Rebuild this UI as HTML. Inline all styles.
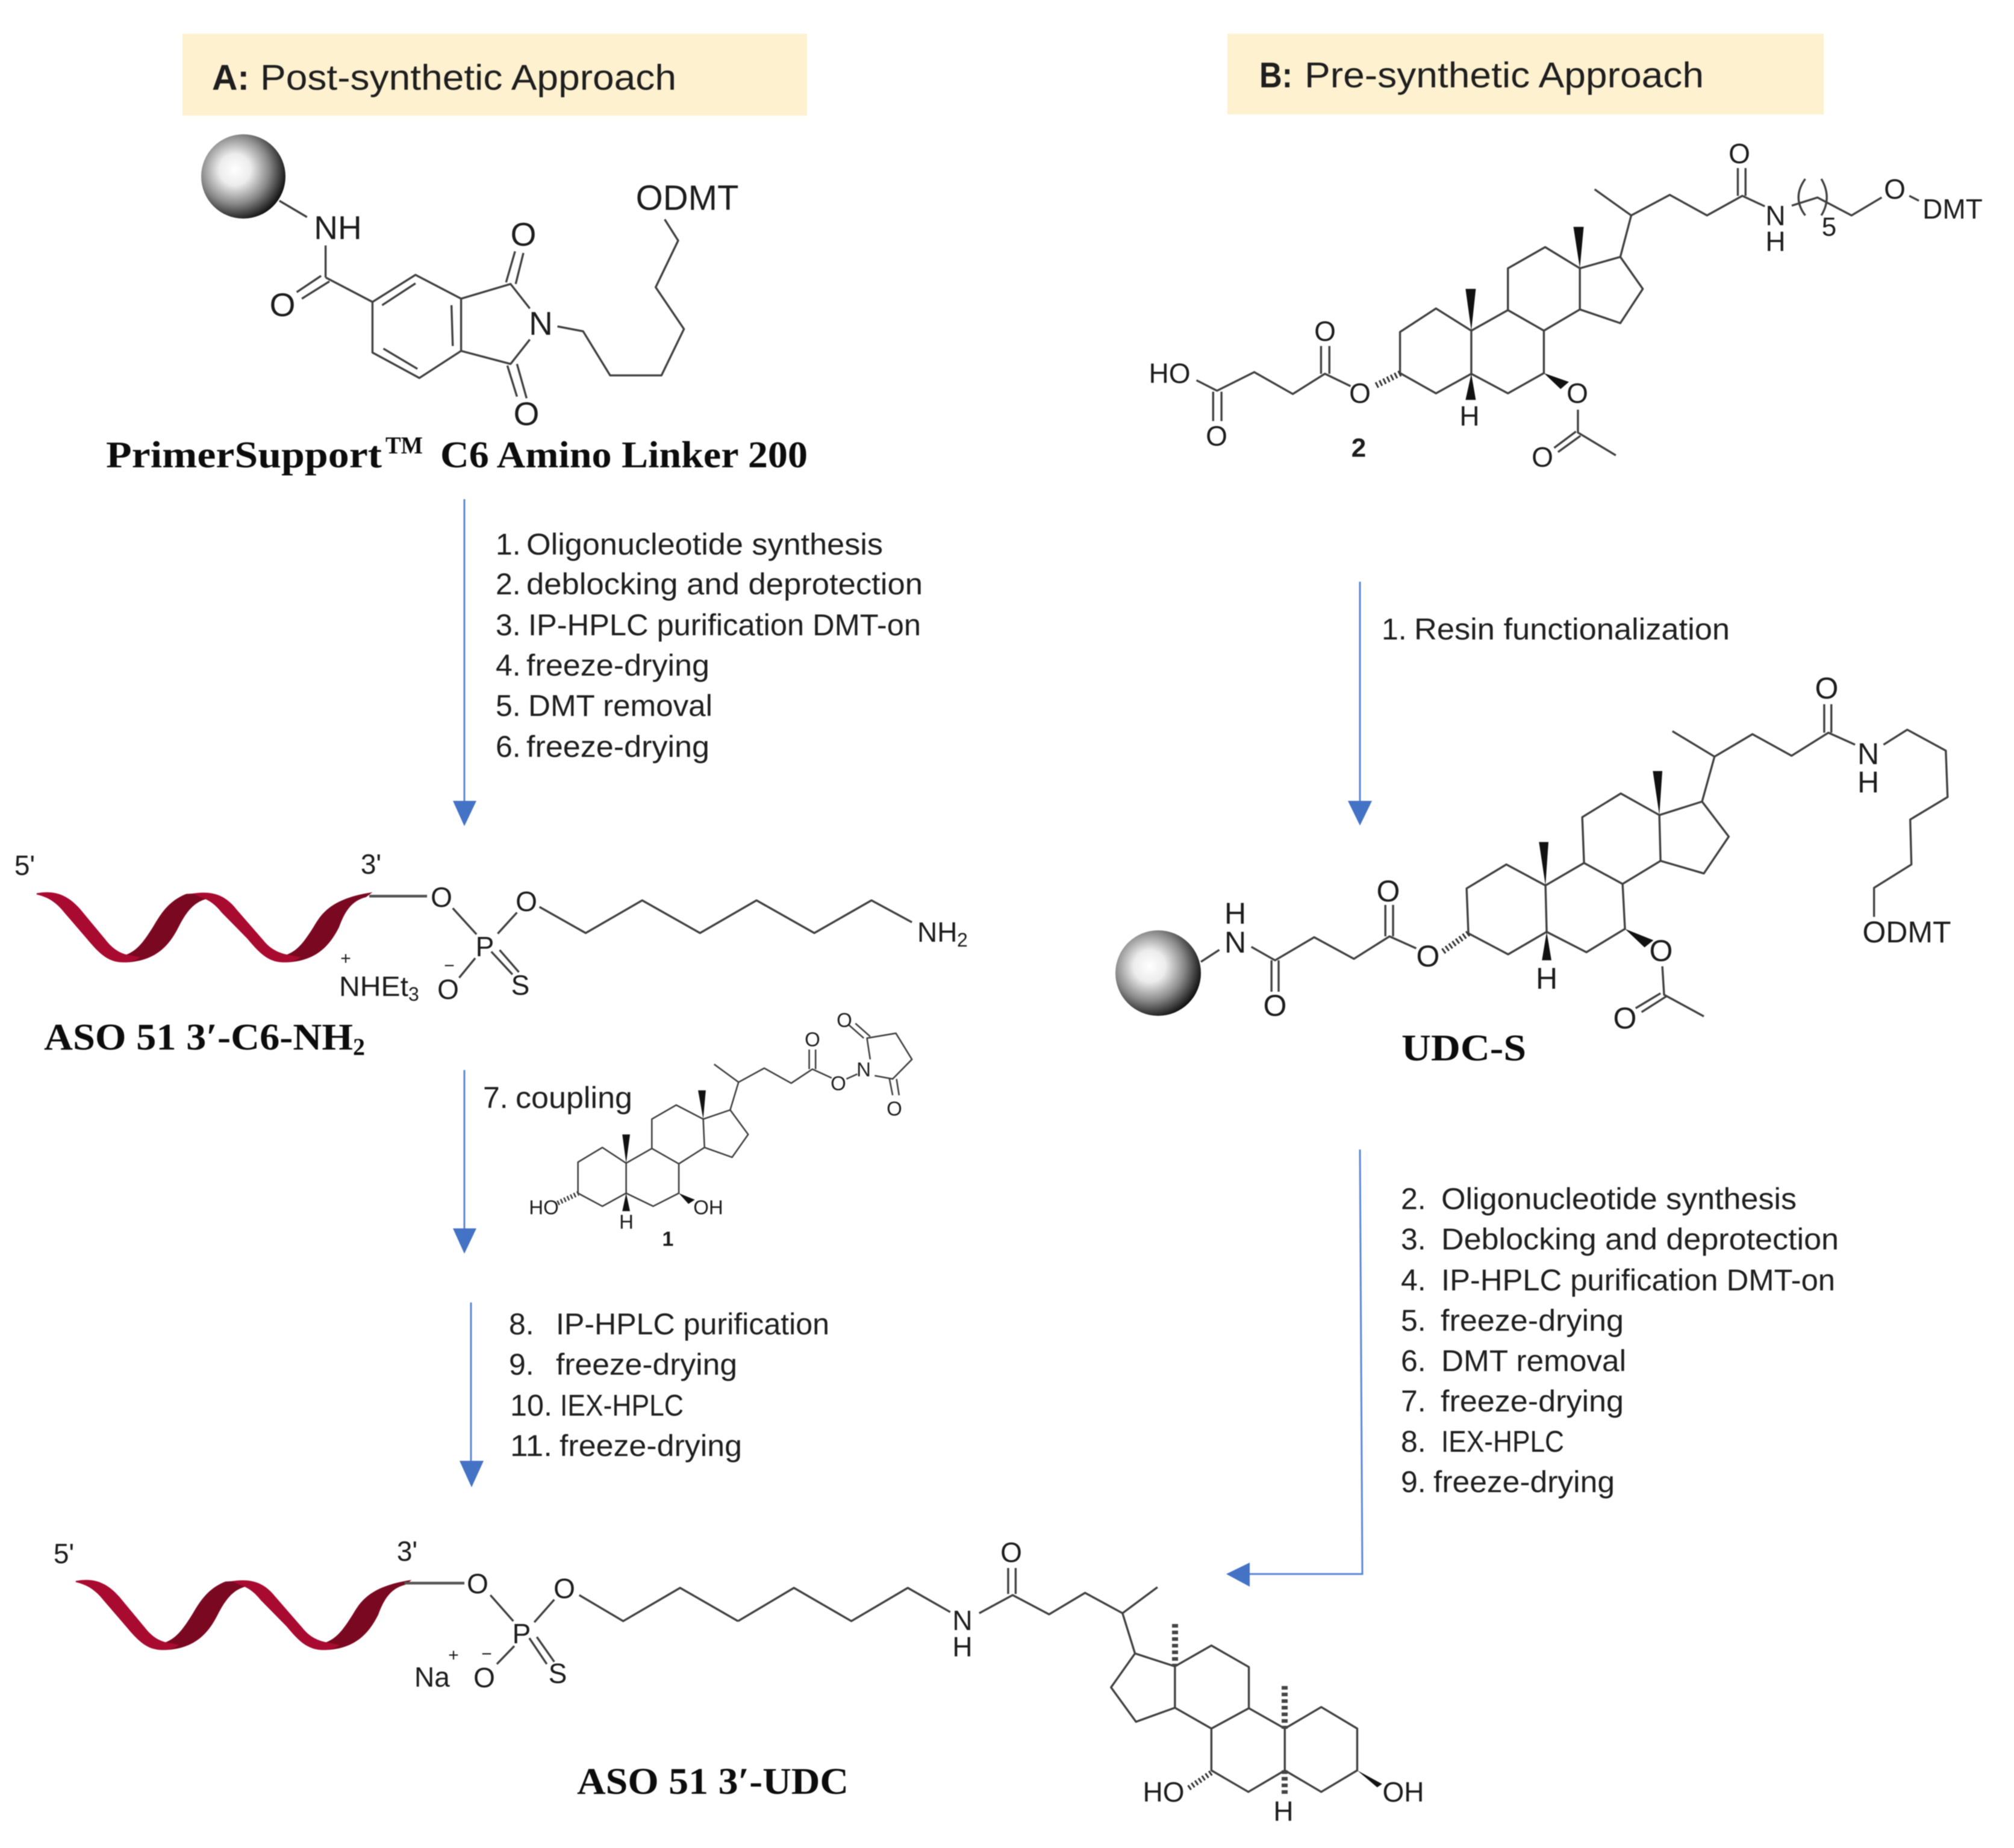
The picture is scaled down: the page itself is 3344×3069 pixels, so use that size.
<!DOCTYPE html>
<html><head><meta charset="utf-8"><style>
html,body{margin:0;padding:0;background:#fff}
svg{display:block;filter:blur(.7px)}
.m{fill:none;stroke:#404040;stroke-width:3.4;stroke-linejoin:round;vector-effect:non-scaling-stroke}
.s{fill:none;stroke:#404040;stroke-width:2.6;stroke-linejoin:round;vector-effect:non-scaling-stroke}
.f{fill:#111;stroke:none}
.a{fill:none;stroke:#5a86d2;stroke-width:3}
.h{fill:#4472c4;stroke:none}
text{font-family:"Liberation Sans",sans-serif;fill:#1c1c1c}
.c{text-anchor:middle;dominant-baseline:central}
.l58{font-size:58px}.l55{font-size:55px}.l50{font-size:50px}.l46{font-size:46px}.l33{font-size:33px}
.t{font-size:50px;fill:#1e1e1e}
.hd{font-size:59px;fill:#1e1e1e}
.se{font-family:"Liberation Serif",serif;font-weight:bold;font-size:62px;fill:#0c0c0c}
</style></head><body>
<svg xmlns="http://www.w3.org/2000/svg" width="3344" height="3069" viewBox="0 0 3344 3069">
<defs><radialGradient id="sp" cx=".4" cy=".42" r=".62"><stop offset="0" stop-color="#fff"/><stop offset=".3" stop-color="#ececec"/><stop offset=".65" stop-color="#8a8a8a"/><stop offset="1" stop-color="#111"/></radialGradient></defs>
<rect width="3344" height="3069" fill="#fff"/>

<!-- headers -->
<rect x="303" y="56" width="1037" height="136" fill="#fdf1cf"/>
<rect x="2038" y="56" width="990" height="134" fill="#fdf1cf"/>
<text class="hd" x="352" y="149" font-weight="bold" textLength="62" lengthAdjust="spacingAndGlyphs">A:</text>
<text class="hd" x="432" y="149" textLength="691" lengthAdjust="spacingAndGlyphs">Post-synthetic Approach</text>
<text class="hd" x="2091" y="145" font-weight="bold" textLength="55" lengthAdjust="spacingAndGlyphs">B:</text>
<text class="hd" x="2166" y="145" textLength="663" lengthAdjust="spacingAndGlyphs">Pre-synthetic Approach</text>

<!-- Structure: primer support -->
<circle cx="404" cy="293" r="70" fill="url(#sp)"/>
<g transform="scale(1.0663,.5421)">
<path class="m" d="M435,615L478,665M507,752V850M500,845L462,895M513,862L470,915M507,850L580,925M580,925L647,842L718,915V1075L653,1158L580,1080ZM595,935L647,868M703,935L705,1060M597,1068L650,1130M718,915L795,870L825,945M825,1040L795,1115L718,1075M788,865L802,770M803,870L815,775M790,1120L805,1215M805,1115L820,1220M868,1000L908,1015L950,1150L1030,1150L1065,1008L1021,880L1056,737L1035,672"/>
</g>
<text class="c l55" x="561" y="378">NH</text>
<text class="c l55" x="869" y="389">O</text>
<text class="c l55" x="469" y="506">O</text>
<text class="c l55" x="898" y="537">N</text>
<text class="c l55" x="874" y="687">O</text>
<text class="c l58" x="1141" y="329">ODMT</text>
<text class="se" x="176" y="776" textLength="458" lengthAdjust="spacingAndGlyphs">PrimerSupport</text>
<text class="se" x="640" y="753" style="font-size:40px" textLength="62" lengthAdjust="spacingAndGlyphs">TM</text>
<text class="se" x="731" y="776" textLength="610" lengthAdjust="spacingAndGlyphs">C6 Amino Linker 200</text>

<!-- Structure 2 -->
<g transform="translate(1672,0) scale(1.0663,.5421)">
<path class="m" d="M295,1165L327,1197L385,1140L445,1207L495,1145L535,1183M321,1200V1290M334,1200V1290M489,1145V1060M502,1145V1060M612,1143V1017L668,945L723,1013V1145L668,1205ZM723,1013L780,950L836,1013V1143L780,1205L723,1145M780,950V822L838,757L892,822V948L836,1013M892,822L955,787L990,885L955,990L892,948M955,787L972,660L915,580M972,660L1032,597L1090,660L1145,600L1180,632M1138,600V515M1150,600V515M1222,630L1262,605L1315,660L1362,605M1405,600L1420,615M889,1255V1325L948,1395M886,1322L852,1372M893,1335L858,1385M1243,548Q1222,605 1243,660M1268,548Q1285,605 1268,660"/>
<polygon class="f" points="723,1013 714,885 730,885"/>
<polygon class="f" points="892,822 882,695 898,695"/>
<polygon class="f" points="723,1145 714,1225 730,1225"/>
<polygon class="f" points="836,1143 862,1192 875,1170"/>
</g>
<line x1="2285" y1="640" x2="2325" y2="620" stroke="#333" stroke-width="10" stroke-dasharray="3 4"/>
<text class="c l46" x="1942" y="620">HO</text>
<text class="c l46" x="2020" y="724">O</text>
<text class="c l46" x="2200" y="550">O</text>
<text class="c l46" x="2258" y="653">O</text>
<text class="c l46" x="2440" y="691">H</text>
<text class="c l46" x="2619" y="653">O</text>
<text class="c l46" x="2561" y="759">O</text>
<text class="c l46" x="2888" y="255">O</text>
<text class="c l46" x="2948" y="358">N</text>
<text class="c l46" x="2948" y="401">H</text>
<text class="c" x="3037" y="377" style="font-size:44px">5</text>
<text class="c l46" x="3146" y="314">O</text>
<text class="c l46" x="3242" y="347">DMT</text>
<text class="c" x="2256" y="744" font-weight="bold" style="font-size:44px">2</text>

<!-- Ribbon 1 -->
<g transform="translate(0,1350) scale(1.0663,.5421)">
<path fill="#7a0820" d="M197,434C215,420 225,390 238,350C250,310 262,270 290,248L318,245L325,262C305,270 292,295 278,350C265,400 245,455 195,458Z"/>
<path fill="#7a0820" d="M447,434C465,420 475,390 488,350C500,310 515,262 580,243L570,258C550,268 538,295 528,350C515,400 495,455 445,458Z"/>
<path fill="#a80a30" d="M57,246C85,236 105,250 125,295L165,390C175,415 185,428 197,434L218,442C210,455 198,460 185,457C165,452 152,425 135,385L100,305C88,275 75,258 57,250Z"/>
<path fill="#a80a30" d="M300,247C330,238 350,250 368,295L410,390C420,415 432,428 447,434L468,442C460,455 448,460 435,457C415,452 402,425 385,385L345,305C335,280 325,266 312,258Z"/>
<path class="m" style="stroke-width:4.5;stroke:#555" d="M575,255H665"/>
<path class="m" d="M705,292L742,372M775,370L805,305M840,288L912,368L1000,268L1090,368L1178,268L1268,368L1357,268L1420,335M765,425L798,495M778,420L808,488M740,445L715,505"/>
</g>
<text class="c l46" x="41" y="1437">5'</text>
<text class="c l46" x="616" y="1435">3'</text>
<text class="c l46" x="733" y="1490">O</text>
<text class="c l46" x="874" y="1497">O</text>
<text class="c l46" x="805" y="1572">P</text>
<text class="c l46" x="744" y="1643">O</text>
<text class="c l46" x="864" y="1636">S</text>
<text class="c" x="746" y="1604" style="font-size:30px">−</text>
<text class="c" x="574" y="1592" style="font-size:30px">+</text>
<text class="l46" x="563" y="1654" textLength="115" lengthAdjust="spacingAndGlyphs">NHEt</text>
<text x="678" y="1662" style="font-size:32px">3</text>
<text class="l46" x="1523" y="1564">NH</text>
<text x="1589" y="1572" style="font-size:32px">2</text>
<text class="se" x="73" y="1743" textLength="513" lengthAdjust="spacingAndGlyphs">ASO 51 3′-C6-NH</text>
<text class="se" x="586" y="1752" style="font-size:40px">2</text>

<!-- Compound 1 -->
<g transform="translate(0,1350) scale(1.0663,.5421)">
<path class="s" d="M900,1070L938,1025L975,1073V1165L938,1205L900,1165ZM975,1073L1015,1028L1057,1075V1165L1017,1205L975,1165M1015,1028V938L1053,895L1095,938L1097,1025L1057,1075M1095,938L1137,910L1165,985L1140,1055L1097,1025M1137,910L1150,825L1112,770M1150,825L1190,782L1232,828L1265,785L1295,812M1260,785V725M1270,785V725M1318,815L1335,800M1355,755L1350,690L1395,675L1420,755L1390,815L1362,805M1345,690L1322,650M1355,685L1332,645M1385,815L1390,865M1396,815L1400,865"/>
<polygon class="f" points="975,1073 969,985 981,985"/>
<polygon class="f" points="1095,938 1087,850 1099,850"/>
<polygon class="f" points="975,1165 969,1220 981,1220"/>
<polygon class="f" points="1057,1165 1072,1198 1082,1185"/>
</g>
<line x1="926" y1="1998" x2="960" y2="1982" stroke="#333" stroke-width="8" stroke-dasharray="2.5 3.5"/>
<text class="c l33" x="903" y="2005">HO</text>
<text class="c l33" x="1176" y="2005">OH</text>
<text class="c l33" x="1040" y="2029">H</text>
<text class="c" x="1109" y="2058" font-weight="bold" style="font-size:34px">1</text>
<text class="c l33" x="1349" y="1726">O</text>
<text class="c l33" x="1392" y="1799">O</text>
<text class="c l33" x="1434" y="1776">N</text>
<text class="c l33" x="1402" y="1694">O</text>
<text class="c l33" x="1485" y="1841">O</text>

<!-- UDC-S -->
<circle cx="1923" cy="1616" r="71" fill="url(#sp)"/>
<g transform="translate(1800,1080) scale(.9847,.4974)">
<path class="m" d="M197,1040L228,1000M282,990L322,1035L388,958L455,1030L515,955L560,995M316,1035V1140M328,1035V1140M508,955V850M521,955V850M648,945L645,795L712,715L778,785L780,940L715,1015ZM778,785L843,710L908,780L912,930L847,1008L780,940M843,710L840,557L905,478L970,550L972,703L908,780M970,550L1042,505L1087,622L1045,745L972,703M1042,505L1063,355L992,270M1063,355L1127,280L1193,352L1255,275L1300,315M1248,275V180M1260,275V180M1348,315L1388,265L1453,335L1456,490L1393,565L1395,715L1332,793V890M975,1055L978,1150L1045,1222M972,1145L930,1195M982,1155L940,1208"/>
<polygon class="f" points="778,785 767,640 783,640"/>
<polygon class="f" points="970,550 959,403 975,403"/>
<polygon class="f" points="780,940 772,1035 788,1035"/>
<polygon class="f" points="912,930 945,992 960,968"/>
</g>
<line x1="2396" y1="1580" x2="2438" y2="1550" stroke="#333" stroke-width="10" stroke-dasharray="3 4"/>
<text class="c l50" x="2051" y="1565">N</text>
<text class="c l50" x="2051" y="1517">H</text>
<text class="c l50" x="2117" y="1670">O</text>
<text class="c l50" x="2371" y="1588">O</text>
<text class="c l50" x="2305" y="1480">O</text>
<text class="c l50" x="3033" y="1143">O</text>
<text class="c l50" x="3102" y="1252">N</text>
<text class="c l50" x="3102" y="1299">H</text>
<text class="c l50" x="3166" y="1548">ODMT</text>
<text class="c l50" x="2758" y="1579">O</text>
<text class="c l50" x="2568" y="1625">H</text>
<text class="c l50" x="2698" y="1691">O</text>
<text class="se" x="2327" y="1761" textLength="207" lengthAdjust="spacingAndGlyphs">UDC-S</text>

<!-- Ribbon 2 -->
<g transform="translate(65,2492) scale(1.0663,.5421)">
<path fill="#7a0820" d="M197,434C215,420 225,390 238,350C250,310 262,270 290,248L318,245L325,262C305,270 292,295 278,350C265,400 245,455 195,458Z"/>
<path fill="#7a0820" d="M447,434C465,420 475,390 488,350C500,310 515,262 580,243L570,258C550,268 538,295 528,350C515,400 495,455 445,458Z"/>
<path fill="#a80a30" d="M57,246C85,236 105,250 125,295L165,390C175,415 185,428 197,434L218,442C210,455 198,460 185,457C165,452 152,425 135,385L100,305C88,275 75,258 57,250Z"/>
<path fill="#a80a30" d="M300,247C330,238 350,250 368,295L410,390C420,415 432,428 447,434L468,442C460,455 448,460 435,457C415,452 402,425 385,385L345,305C335,280 325,266 312,258Z"/>
</g>
<g transform="translate(0,2480) scale(.8291,.3756)">
<path class="m" style="stroke-width:4.5;stroke:#555" d="M810,397H930"/>
<path class="m" d="M982,450L1028,565M1110,470L1070,570M1160,450L1248,565L1362,418L1478,565M1060,640L1095,755M1075,635L1110,745M1030,675L995,755"/>
</g>
<g transform="translate(1300,2480) scale(.8291,.3756)">
<path class="m" d="M-90,565L22,418L137,565L250,418L335,525M393,530L460,450L533,535L605,440L680,530L750,415M451,445V330M466,445V330M680,530L705,708M705,708L785,765V948L707,1010L657,858ZM785,765L858,673L933,768V950L858,1040L785,948M933,950L1005,1040V1225L932,1320L858,1225V1040M1005,1040L1078,945L1150,1040V1225L1078,1320L1005,1225"/>
<polygon class="f" points="1150,1225 1190,1300 1200,1285"/>
</g>
<line x1="1951" y1="2697" x2="1951" y2="2767" stroke="#444" stroke-width="10" stroke-dasharray="6 5"/>
<line x1="2133" y1="2800" x2="2133" y2="2871" stroke="#444" stroke-width="10" stroke-dasharray="6 5"/>
<line x1="2133" y1="2940" x2="2133" y2="2981" stroke="#444" stroke-width="10" stroke-dasharray="6 5"/>
<line x1="2011" y1="2944" x2="1973" y2="2970" stroke="#333" stroke-width="9" stroke-dasharray="3 4"/>
<text class="c l46" x="106" y="2580">5'</text>
<text class="c l46" x="676" y="2576">3'</text>
<text class="c l46" x="793" y="2630">O</text>
<text class="c l46" x="937" y="2638">O</text>
<text class="c l46" x="866" y="2713">P</text>
<text class="c l46" x="804" y="2786">O</text>
<text class="c l46" x="926" y="2779">S</text>
<text class="l46" x="688" y="2801">Na</text>
<text class="c" x="753" y="2749" style="font-size:30px">+</text>
<text class="c" x="808" y="2747" style="font-size:30px">−</text>
<text class="c l46" x="1598" y="2691">N</text>
<text class="c l46" x="1598" y="2735">H</text>
<text class="c l46" x="1679" y="2578">O</text>
<text class="c l46" x="1932" y="2976">HO</text>
<text class="c l46" x="2330" y="2976">OH</text>
<text class="c l46" x="2131" y="3008">H</text>
<text class="se" x="958" y="2979" textLength="451" lengthAdjust="spacingAndGlyphs">ASO 51 3′-UDC</text>

<!-- arrows -->
<line class="a" x1="771" y1="829" x2="771" y2="1335"/><polygon class="h" points="752,1330 791,1330 771,1372"/>
<line class="a" x1="771" y1="1777" x2="771" y2="2045"/><polygon class="h" points="752,2040 791,2040 771,2082"/>
<line class="a" x1="782" y1="2163" x2="782" y2="2430"/><polygon class="h" points="763,2426 803,2426 783,2470"/>
<line class="a" x1="2258" y1="966" x2="2258" y2="1335"/><polygon class="h" points="2238,1330 2278,1330 2258,1371"/>
<polyline class="a" points="2258,1909 2262,2614 2070,2614"/><polygon class="h" points="2075,2595 2075,2635 2036,2614"/>

<!-- step text A -->
<text class="t" x="823" y="921">1.</text><text class="t" x="874" y="921" textLength="592" lengthAdjust="spacingAndGlyphs">Oligonucleotide synthesis</text>
<text class="t" x="823" y="987">2.</text><text class="t" x="874" y="987" textLength="658" lengthAdjust="spacingAndGlyphs">deblocking and deprotection</text>
<text class="t" x="823" y="1055">3.</text><text class="t" x="877" y="1055" textLength="652" lengthAdjust="spacingAndGlyphs">IP-HPLC purification DMT-on</text>
<text class="t" x="823" y="1122">4.</text><text class="t" x="874" y="1122" textLength="304" lengthAdjust="spacingAndGlyphs">freeze-drying</text>
<text class="t" x="823" y="1189">5.</text><text class="t" x="877" y="1189" textLength="306" lengthAdjust="spacingAndGlyphs">DMT removal</text>
<text class="t" x="823" y="1257">6.</text><text class="t" x="874" y="1257" textLength="304" lengthAdjust="spacingAndGlyphs">freeze-drying</text>
<text class="t" x="802" y="1840">7.</text><text class="t" x="856" y="1840" textLength="194" lengthAdjust="spacingAndGlyphs">coupling</text>
<text class="t" x="845" y="2216">8.</text><text class="t" x="923" y="2216" textLength="454" lengthAdjust="spacingAndGlyphs">IP-HPLC purification</text>
<text class="t" x="845" y="2283">9.</text><text class="t" x="923" y="2283" textLength="301" lengthAdjust="spacingAndGlyphs">freeze-drying</text>
<text class="t" x="847" y="2351" textLength="70" lengthAdjust="spacingAndGlyphs">10.</text><text class="t" x="930" y="2351" textLength="205" lengthAdjust="spacingAndGlyphs">IEX-HPLC</text>
<text class="t" x="847" y="2418" textLength="70" lengthAdjust="spacingAndGlyphs">11.</text><text class="t" x="929" y="2418" textLength="303" lengthAdjust="spacingAndGlyphs">freeze-drying</text>

<!-- step text B -->
<text class="t" x="2294" y="1062">1.</text><text class="t" x="2348" y="1062" textLength="524" lengthAdjust="spacingAndGlyphs">Resin functionalization</text>
<text class="t" x="2326" y="2008">2.</text><text class="t" x="2393" y="2008" textLength="590" lengthAdjust="spacingAndGlyphs">Oligonucleotide synthesis</text>
<text class="t" x="2326" y="2075">3.</text><text class="t" x="2393" y="2075" textLength="660" lengthAdjust="spacingAndGlyphs">Deblocking and deprotection</text>
<text class="t" x="2326" y="2143">4.</text><text class="t" x="2393" y="2143" textLength="654" lengthAdjust="spacingAndGlyphs">IP-HPLC purification DMT-on</text>
<text class="t" x="2326" y="2210">5.</text><text class="t" x="2392" y="2210" textLength="304" lengthAdjust="spacingAndGlyphs">freeze-drying</text>
<text class="t" x="2326" y="2277">6.</text><text class="t" x="2393" y="2277" textLength="307" lengthAdjust="spacingAndGlyphs">DMT removal</text>
<text class="t" x="2326" y="2344">7.</text><text class="t" x="2392" y="2344" textLength="304" lengthAdjust="spacingAndGlyphs">freeze-drying</text>
<text class="t" x="2326" y="2411">8.</text><text class="t" x="2393" y="2411" textLength="204" lengthAdjust="spacingAndGlyphs">IEX-HPLC</text>
<text class="t" x="2326" y="2478">9.</text><text class="t" x="2380" y="2478" textLength="301" lengthAdjust="spacingAndGlyphs">freeze-drying</text>
</svg>
</body></html>
